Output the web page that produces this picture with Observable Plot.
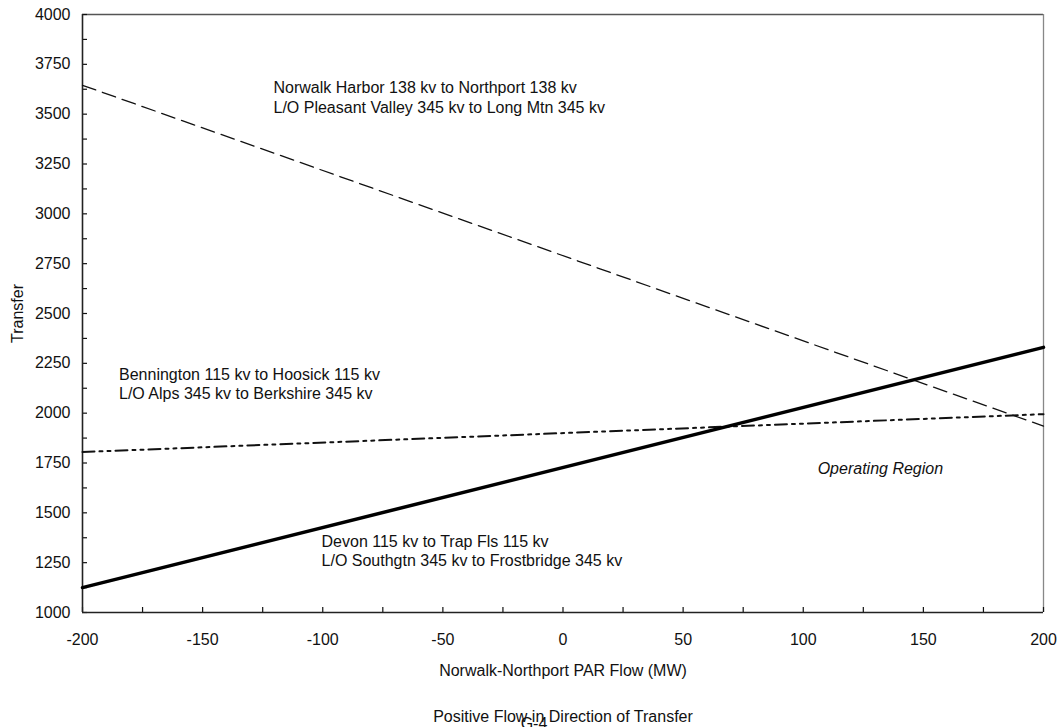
<!DOCTYPE html>
<html>
<head>
<meta charset="utf-8">
<script src="https://cdn.jsdelivr.net/npm/d3@7"></script>
<script src="https://cdn.jsdelivr.net/npm/@observablehq/plot@0.6"></script>
<style>
  html, body { margin: 0; padding: 0; background: #fff; }
  #chart svg { display: block; font-family: "Liberation Sans", Arial, sans-serif; }
</style>
</head>
<body>
<div id="chart"></div>
<script>
// ---- data ----
const flow = [-200, 200];                 // Norwalk-Northport PAR Flow (MW)
const norwalkTransfer = [3645, 1935];     // Norwalk Harbor - Northport (dashed)
const devonTransfer = [1125, 2330];       // Devon - Trap Fls (solid)
const benningtonTransfer = [1805, 1995];  // Bennington - Hoosick (dash-dot-dot)

const xTickLabels = [-200, -150, -100, -50, 0, 50, 100, 150, 200];
const xMinorTicks = [-200, -175, -150, -125, -100, -75, -50, -25, 0, 25, 50, 75, 100, 125, 150, 175, 200];
const yTickLabels = [1000, 1250, 1500, 1750, 2000, 2250, 2500, 2750, 3000, 3250, 3500, 3750, 4000];
const yMinorTicks = [1125, 1375, 1625, 1875, 2125, 2375, 2625, 2875, 3125, 3375, 3625, 3875];

const labelTexts = [
  "Norwalk Harbor 138 kv to Northport 138 kv\nL/O Pleasant Valley 345 kv to Long Mtn 345 kv",
  "Bennington 115 kv to Hoosick 115 kv\nL/O Alps 345 kv to Berkshire 345 kv",
  "Devon 115 kv to Trap Fls 115 kv\nL/O Southgtn 345 kv to Frostbridge 345 kv"
];
const labelX = [-120.5, -184.8, -100.5];
const labelY = [3508, 2070, 1231];

const regionText = ["Operating Region"];
const regionX = [106];
const regionY = [1697];

// ---- build ----
const series = (ys, name) => flow.map((x, i) => ({x, y: ys[i], name}));
const labels = labelTexts.map((t, i) => ({t, x: labelX[i], y: labelY[i]}));
const region = regionText.map((t, i) => ({t, x: regionX[i], y: regionY[i]}));

const chart = Plot.plot({
  width: 1059,
  height: 727,
  marginLeft: 82,
  marginRight: 16,
  marginTop: 14,
  marginBottom: 115,
  style: {fontFamily: "Liberation Sans, Arial, sans-serif", fontSize: "16px", color: "#111", background: "#fff"},
  x: {domain: [-200, 200]},
  y: {domain: [1000, 4000]},
  marks: [
    // frame
    Plot.ruleY([4000], {stroke: "#555", strokeWidth: 1.3}),
    Plot.ruleX([200], {stroke: "#888", strokeWidth: 1.3}),
    // y axis: labels + inward ticks
    Plot.axisY({ticks: yTickLabels, tickSize: 0, tickPadding: 12, label: null, fontSize: 16, tickFormat: d => String(d)}),
    Plot.axisY({ticks: yTickLabels.concat(yMinorTicks), tickSize: -5, tickFormat: () => "", label: null, strokeWidth: 1.2}),
    // x axis: labels + inward ticks
    Plot.axisX({ticks: xTickLabels, tickSize: 0, tickPadding: 21, label: null, fontSize: 16, tickFormat: d => String(d)}),
    Plot.axisX({ticks: xMinorTicks, tickSize: -5, tickFormat: () => "", label: null, strokeWidth: 1.2}),
    Plot.ruleX([-200], {stroke: "#222", strokeWidth: 1.6}),
    Plot.ruleY([1000], {stroke: "#222", strokeWidth: 1.6}),
    // lines
    Plot.line(series(norwalkTransfer, "Norwalk"), {x: "x", y: "y", stroke: "#111", strokeWidth: 1.3, strokeDasharray: "14,7"}),
    Plot.line(series(benningtonTransfer, "Bennington"), {x: "x", y: "y", stroke: "#111", strokeWidth: 2, strokeDasharray: "12,5,3,5,3,5"}),
    Plot.line(series(devonTransfer, "Devon"), {x: "x", y: "y", stroke: "#000", strokeWidth: 3.5}),
    // annotations
    Plot.text(labels, {x: "x", y: "y", text: "t", textAnchor: "start", lineAnchor: "bottom", lineHeight: 1.22, fontSize: 16, fill: "#111"}),
    Plot.text(region, {x: "x", y: "y", text: "t", textAnchor: "start", lineAnchor: "bottom", fontSize: 16, fontStyle: "italic", fill: "#111"}),
    // axis titles and footer
    Plot.text(["Transfer"], {frameAnchor: "left", dx: -65, rotate: -90, textAnchor: "middle", lineAnchor: "middle", fontSize: 16, fill: "#111"}),
    Plot.text(["Norwalk-Northport PAR Flow (MW)"], {frameAnchor: "bottom", dy: 63, textAnchor: "middle", lineAnchor: "bottom", fontSize: 16, fill: "#111"}),
    Plot.text(["Positive Flow in Direction of Transfer"], {frameAnchor: "bottom", dy: 109, textAnchor: "middle", lineAnchor: "bottom", fontSize: 16, fill: "#111"}),
    Plot.text(["G-4"], {frameAnchor: "bottom", dx: -29, dy: 116, textAnchor: "middle", lineAnchor: "bottom", fontSize: 16, fill: "#111"})
  ]
});
document.getElementById("chart").appendChild(chart);
</script>
</body>
</html>
